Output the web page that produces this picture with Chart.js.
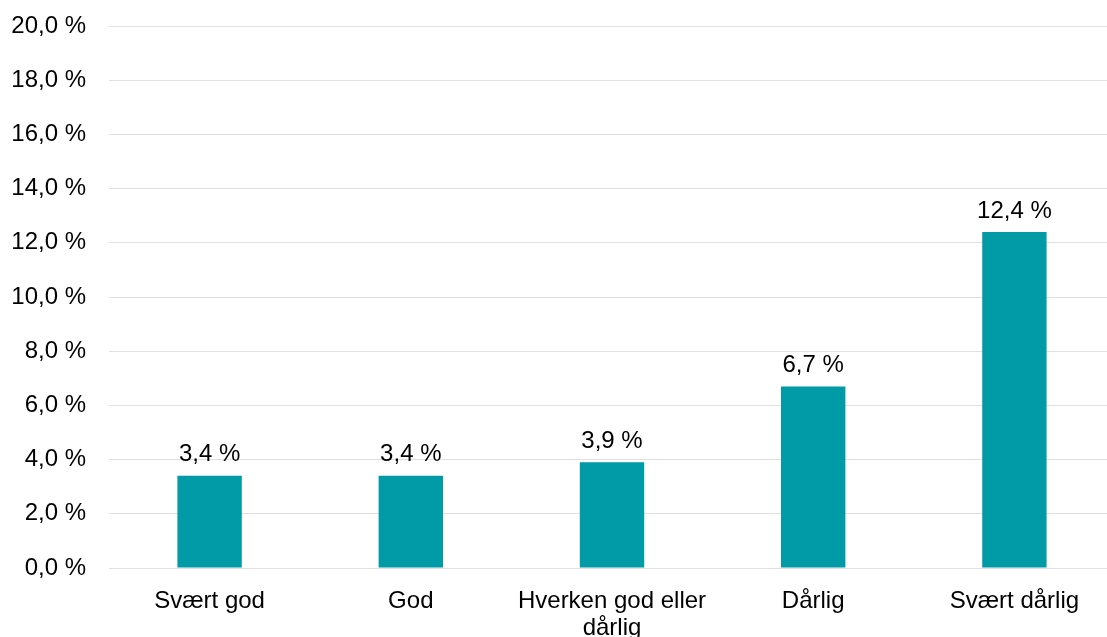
<!DOCTYPE html>
<html>
<head>
<meta charset="utf-8">
<script src="https://cdn.jsdelivr.net/npm/chart.js@4"></script>
<style>
  html, body { margin: 0; padding: 0; background: #fff; overflow: hidden; }
  #wrap { width: 1115px; height: 637px; }
</style>
</head>
<body>
<div id="wrap"><canvas id="chart"></canvas></div>
<script>
// Andel per kategori (prosent)
const categories = ['Svært god', 'God', ['Hverken god eller', 'dårlig'], 'Dårlig', 'Svært dårlig'];
const values = [3.4, 3.4, 3.9, 6.7, 12.4];
const yTicks = [0, 2, 4, 6, 8, 10, 12, 14, 16, 18, 20];

const fmt = v => v.toFixed(1).replace('.', ',') + ' %';

// value labels above each bar
const barLabels = {
  id: 'barLabels',
  afterDatasetsDraw(chart) {
    const ctx = chart.ctx;
    const meta = chart.getDatasetMeta(0);
    ctx.save();
    ctx.font = '24px "Liberation Sans", Arial, sans-serif';
    ctx.fillStyle = '#000';
    ctx.textAlign = 'center';
    ctx.textBaseline = 'bottom';
    meta.data.forEach((bar, i) => {
      ctx.fillText(fmt(values[i]), bar.x, bar.y - 9);
    });
    ctx.restore();
  }
};

Chart.defaults.font.family = '"Liberation Sans", Arial, sans-serif';
Chart.defaults.font.size = 24;
Chart.defaults.color = '#000';

new Chart(document.getElementById('chart'), {
  type: 'bar',
  data: {
    labels: categories,
    datasets: [{
      data: values,
      backgroundColor: '#009BA7',
      categoryPercentage: 1,
      barPercentage: 0.32
    }]
  },
  options: {
    responsive: true,
    maintainAspectRatio: false,
    animation: false,
    layout: { padding: { top: 26, left: 11, right: 0, bottom: 0 } },
    plugins: {
      legend: { display: false },
      tooltip: { enabled: false }
    },
    scales: {
      x: {
        grid: { display: false },
        border: { display: false },
        ticks: { padding: 12, maxRotation: 0, autoSkip: false, font: { lineHeight: 1.12 } },
        afterFit: axis => {
          axis.height = 69;
          axis.paddingLeft = 0;
          axis.paddingRight = 0;
        }
      },
      y: {
        min: 0,
        max: 20,
        afterBuildTicks: axis => { axis.ticks = yTicks.map(v => ({ value: v })); },
        grid: { color: '#e0e0e0', drawTicks: false },
        border: { display: false },
        ticks: { padding: 23, callback: v => fmt(v) },
        afterFit: axis => {
          axis.width = 98;
          axis.paddingTop = 0;
          axis.paddingBottom = 0;
        }
      }
    }
  },
  plugins: [barLabels]
});
</script>
</body>
</html>
